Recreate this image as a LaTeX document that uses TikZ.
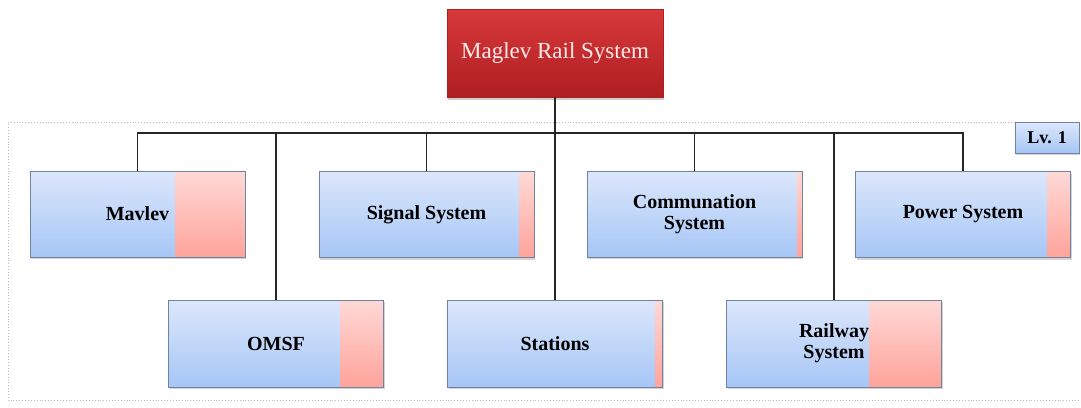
\documentclass[tikz,border=0pt]{standalone}
\usepackage{fontspec}
\setmainfont{Liberation Serif}
\usetikzlibrary{shadows,calc}

\definecolor{bluetop}{HTML}{DCE7FB}
\definecolor{bluebot}{HTML}{A6C6F6}
\definecolor{unitborder}{HTML}{7083A0}
\definecolor{pinktop}{HTML}{FFD9D6}
\definecolor{pinkbot}{HTML}{FFA39B}
\definecolor{redtop}{HTML}{D8393A}
\definecolor{redbot}{HTML}{AE1E22}
\definecolor{frame}{HTML}{B8BCC4}

\begin{document}
\begin{tikzpicture}[x=1pt,y=-1pt,
  unit/.style={draw=unitborder, line width=0.8pt,
    top color=bluetop, bottom color=bluebot,
    minimum width=215pt, minimum height=86pt, inner sep=0pt,
    align=center, font=\fontsize{20}{21}\selectfont\bfseries,
    drop shadow={shadow xshift=1pt, shadow yshift=-2pt, opacity=0.35},
    path picture={\shade[top color=pinktop, bottom color=pinkbot]
      ([xshift=-#1]path picture bounding box.north east)
      rectangle (path picture bounding box.south east);}},
  rootbox/.style={draw=redbot, line width=0.6pt,
    top color=redtop, bottom color=redbot,
    minimum width=216pt, minimum height=88pt, inner sep=0pt,
    text=white!92!red, font=\fontsize{23}{26}\selectfont,
    drop shadow={shadow xshift=1pt, shadow yshift=-2.5pt, opacity=0.4}},
  levelbox/.style={draw=unitborder, line width=0.8pt,
    top color=bluetop, bottom color=bluebot,
    minimum width=64pt, minimum height=31pt, inner sep=0pt,
    font=\fontsize{18}{20}\selectfont\bfseries,
    drop shadow={shadow xshift=1pt, shadow yshift=-2pt, opacity=0.35}},
  link/.style={draw=black!85, line width=1.4pt}]

\useasboundingbox (0,0) rectangle (1081,407);

% level frame
\draw[frame, dotted, line width=0.9pt] (1015,122) -| (8,400) -- (1081,400);

% bus line
\coordinate (bus) at (137.5,133);

% root
\node[rootbox] (root) at (555,53) {Maglev Rail System};

% first row
\node[unit=70pt] (mavlev) at (137.5,214) {Mavlev};
\node[unit=15pt] (signal) at (426.5,214.5) {Signal System};
\node[unit=5pt] (comm) at (694.5,214) {Communation\\System};
\node[unit=23pt] (power) at (963,214.5) {Power System};

% second row
\node[unit=43pt, minimum height=87pt] (omsf) at (276,343.5) {OMSF};
\node[unit=7pt, minimum height=87pt] (stations) at (555,343.5) {Stations};
\node[unit=72pt, minimum height=87pt] (railway) at (834,343.5) {Railway\\System};

% level tag
\node[levelbox] (lv) at (1047,137.5) {Lv. 1};

% connectors
\draw[link] (root.south) -- (stations.north);
\draw[link] (mavlev.north) -- (mavlev.north |- bus) -- (power.north |- bus) -- (power.north);
\draw[link] (signal.north) -- (signal.north |- bus);
\draw[link] (comm.north) -- (comm.north |- bus);
\draw[link] (omsf.north) -- (omsf.north |- bus);
\draw[link] (railway.north) -- (railway.north |- bus);
\end{tikzpicture}
\end{document}
